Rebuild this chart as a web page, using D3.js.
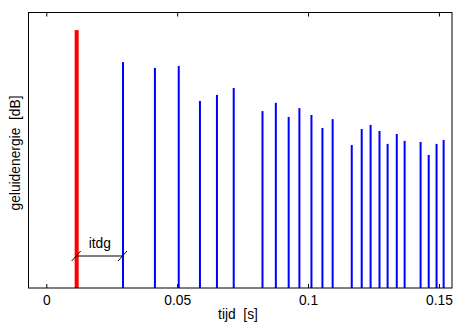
<!DOCTYPE html>
<html>
<head>
<meta charset="utf-8">
<script src="https://cdn.jsdelivr.net/npm/d3@7"></script>
<style>
  body { margin: 0; background: #fff; }
  text { font-family: "Liberation Sans", Arial, sans-serif; font-size: 13.8px; fill: #000; }
  .lbl { white-space: pre; }
</style>
</head>
<body>
<div id="vis"></div>
<script>
const FRAME_WIDTH = 472;
const FRAME_HEIGHT = 325;
const MARGINS = {left: 28.5, right: 20, top: 12.5, bottom: 37};

// direct sound (red) and reflections (blue)
const directTime = 0.0116;
const directLevel = 93.6;

const reflTimes = [0.0293, 0.0415, 0.0506, 0.0587, 0.0652, 0.0716, 0.0826, 0.0877,
                   0.0926, 0.0967, 0.1013, 0.1055, 0.1094, 0.1167, 0.1205, 0.1239,
                   0.1273, 0.1304, 0.1339, 0.1369, 0.1430, 0.1461, 0.1491, 0.1518];
const reflLevels = [82.0, 79.9, 80.6, 67.9, 70.1, 72.6, 64.2, 67.2,
                    62.1, 65.3, 62.8, 58.1, 61.3, 51.9, 57.7, 59.2,
                    57.0, 52.3, 55.9, 53.4, 53.0, 48.3, 52.3, 53.7];

const xTicks = [0, 0.05, 0.1, 0.15];
const xTickLabels = ["0", "0.05", "0.1", "0.15"];

const svg = d3.select("#vis").append("svg")
    .attr("width", FRAME_WIDTH)
    .attr("height", FRAME_HEIGHT);

const X = d3.scaleLinear().domain([-0.0068, 0.155])
    .range([MARGINS.left, FRAME_WIDTH - MARGINS.right]);
const Y = d3.scaleLinear().domain([0, 100])
    .range([FRAME_HEIGHT - MARGINS.bottom, MARGINS.top]);

const refl = reflTimes.map((t, i) => ({t: t, v: reflLevels[i]}));

// blue reflections
svg.selectAll(".refl").data(refl).enter().append("rect")
    .attr("class", "refl")
    .attr("x", d => X(d.t) - 1)
    .attr("width", 2)
    .attr("y", d => Y(d.v))
    .attr("height", d => Y(0) - Y(d.v))
    .attr("fill", "#0000ff");

// red direct sound
svg.append("rect")
    .attr("x", X(directTime) - 2)
    .attr("width", 4)
    .attr("y", Y(directLevel))
    .attr("height", Y(0) - Y(directLevel))
    .attr("fill", "#ff0000");

// axes box + ticks
const bottomAxis = d3.axisBottom(X).tickValues(xTicks)
    .tickFormat((d, i) => xTickLabels[i])
    .tickSizeInner(-4).tickSizeOuter(0).tickPadding(7);
const topAxis = d3.axisTop(X).tickValues(xTicks).tickFormat("")
    .tickSizeInner(-4).tickSizeOuter(0);

const gb = svg.append("g").attr("transform", "translate(0," + Y(0) + ")").call(bottomAxis);
const gt = svg.append("g").attr("transform", "translate(0," + MARGINS.top + ")").call(topAxis);
[gb, gt].forEach(g => {
  g.select(".domain").remove();
  g.selectAll("line").attr("stroke", "#000");
  g.selectAll("text").attr("font-family", null).attr("font-size", null);
});

svg.append("rect")
    .attr("x", MARGINS.left).attr("y", MARGINS.top)
    .attr("width", FRAME_WIDTH - MARGINS.right - MARGINS.left)
    .attr("height", Y(0) - MARGINS.top)
    .attr("fill", "none").attr("stroke", "#000").attr("stroke-width", 1);

// itdg annotation
const itdgY = 256;
const x1 = X(directTime), x2 = X(reflTimes[0]);
svg.append("line").attr("x1", x1).attr("x2", x2)
    .attr("y1", itdgY).attr("y2", itdgY).attr("stroke", "#000");
[x1, x2].forEach(x => {
  svg.append("line")
      .attr("x1", x - 5).attr("y1", itdgY + 5)
      .attr("x2", x + 4).attr("y2", itdgY - 5)
      .attr("stroke", "#000");
});
svg.append("text").attr("x", (x1 + x2) / 2).attr("y", 248)
    .attr("text-anchor", "middle").text("itdg");

// axis labels
svg.append("text").attr("class", "lbl")
    .attr("x", 238).attr("y", 319)
    .attr("text-anchor", "middle").text("tijd  [s]");
svg.append("text").attr("class", "lbl")
    .attr("transform", "translate(20,153) rotate(-90)")
    .attr("text-anchor", "middle").text("geluidenergie  [dB]");
</script>
</body>
</html>
